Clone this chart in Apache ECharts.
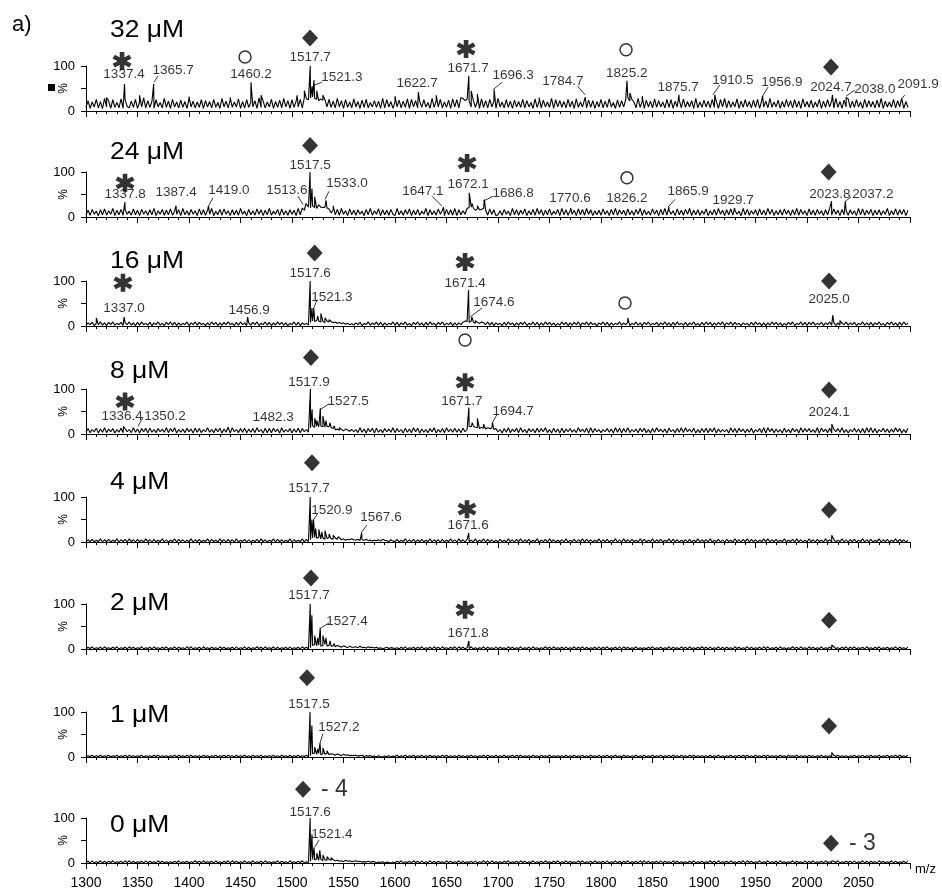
<!DOCTYPE html>
<html>
<head>
<meta charset="utf-8">
<script src="https://cdn.jsdelivr.net/npm/echarts@6/dist/echarts.min.js"></script>
<style>
  html, body { margin: 0; background: #fff; }
  #chart { width: 942px; height: 890px; }
</style>
</head>
<body>
<div id="chart"></div>
<script>
// concentrations, one panel each (top to bottom)
var concLabels = ['32 μM', '24 μM', '16 μM', '8 μM', '4 μM', '2 μM', '1 μM', '0 μM'];

// baseline noise: one base-36 char = intensity (%) every 2 m/z from 1300
var noise32 = [
  '8n6k9q7l5s' + '9m6p8j7r6o' + 'a7m8q6k9t7' + 'n8l6p9j7s8' + 'm6q9k7o8l6',
  'r9m7k8p6n9' + 'l7q8j6s9m7' + 'o8k9r6l7p8' + 'j9n6t8m7k9' + 'q6l8o7s9n6',
  'p8m9q7urpt' + 'vsqnrop9q8' + 'm7s9n6p8k7' + 'r9l6o8q7j9' + 'n8m6s7p9l6',
  'k9o7m8r6q9' + 'n7l8p9j6s8' + 'm9q7k8o6r9' + 'p7usnqm9o8' + 'l6r8n7q9m6',
  's9k7p8m6o9' + 'l8q7n9j6r8' + 'm7o9k8s6p9' + 'n8l7q9m6r8' + 'k9p7o8n6l9',
  'q7m8r9j6o8' + 'n9pumqk7s8' + 'l6o9m7r8n9' + 'k7q8p6m9o7' + 'r8l9n6s7k8',
  'o9m7q8l6p9' + 's7n8k9r6m8' + 'p9l7o8q6n9' + 'm7s8k9o6l8' + 'q9n7p8m6r9',
  'l8o7k9q6m8' + 'p9n7s8l6o9' + 'r7m8p9k6q8' + 'n9l7o8s6m9' + 'k8q7n9p6l8'
].join('');
var noise24 = [
  '5f4h6d3g5i' + '4e6j3f5h4g' + '6d4i5f3h6e' + '4g5j3e6h4f' + '5i4d6g3j5e',
  '4h6e3i5g4f' + '6j3d5h4i6e' + '3g5f4j6d3h' + '5e4i6g3f5j' + '4d6h3i5e4g',
  '6f3j5kfqmk' + 'pljrmlmki9' + 'g5h4j6e3i5' + 'f4g6d3h5j4' + 'e6i3g5f4h6',
  '3j5e4g6i3f' + '5h4d6j3g5e' + '4i6f3h5g4j' + '3g5e6jlmkf' + 'ighjf4i6g3',
  '5e4h6d3j5g' + '4f6i3e5h4j' + '6g3f5i4d6h' + '3j5g4e6f3i' + '5h4j6g3e5f',
  '4i6e3h5j4g' + '6f3i5e4h6j' + '3g5d4i6f3h' + '5j4g6e3i5f' + '4h6j3f5g4e',
  '6i3e5h4j6f' + '3g5i4f6d3j' + '5h4e6g3i5f' + '4j6h3e5g4i' + '6f3g5j4h6e',
  '3i5f4h6e3g' + '5j4i6f3h5e' + '4g6e3j5i4f' + '6h3f5g4e6j' + '3e5i4g6h3f'
].join('');
var noise16 = [
  '2738163927' + '1839263817' + '3927182936' + '2817392618' + '3928172639',
  '1739283617' + '2938172839' + '3618293717' + '2839163928' + '1729382716',
  '3928173628' + 'bacb9a8b9a' + '7968574635' + '2738163927' + '3928172639',
  '2817392618' + '3927182936' + '1839263817' + '2738ba8b96' + '8697392817',
  '3618293717' + '2839163928' + '1729382716' + '2938172839' + '1739283617',
  '3928172639' + '2738163927' + '1839263817' + '3927182936' + '2817392618',
  '2938172839' + '1739283617' + '3618293717' + '1729382716' + '2839163928',
  '1839263817' + '3928172639' + '2738163927' + '2817392618' + '3927182936'
].join('');
var noise8 = [
  '4c3a5d2b4e' + '3b5c2a4d3f' + '5a3e4b2c5d' + '2d4a3c5b4e' + '3c5e2a4b3d',
  '5b2d4c3a5e' + '4a3c5d2b4f' + '2e5a3c4d2b' + '4c3e5a2d3c' + '3d5b2e4a5c',
  '2b4d3c5a4e' + 'ifhgigfhge' + 'c9b8a7b96a' + '5a3e4b2c5d' + '2d4a3c5b4e',
  '3c5a2d4b3e' + '5d2b4a3c5e' + '2a4c3e5b4d' + '4b3d5ahgif' + 'ecfdbecdac',
  '5a2c4e3b5d' + '3e4a2c5b3d' + '4c5e3a2d4b' + '2d3b5c4a3e' + '5b4d2e3c5a',
  '3a5c4b2e4d' + '2c4e3a5b3d' + '5d3a2c4e5b' + '4b2d5a3c4e' + '3e5b4d2a3c',
  '4d3c5e2b4a' + '5a2e4c3d5b' + '3b4d2a5c3e' + '2e5c3b4a2d' + '4a3d5b2e4c',
  '5c4a3e2d5b' + '3d2b5c4e3a' + '2a5d4b3c2e' + '4e3c2a5d4b' + '3b4e5c2a3d'
].join('');
var noise4 = [
  '0516041705' + '1604170516' + '0715061407' + '1506041705' + '0417061504',
  '1705160417' + '0614071506' + '1507041605' + '0416071504' + '1706150417',
  '0514170615' + '9a8b7968a7' + '7968574657' + '5463546342' + '4352643152',
  '1604170516' + '0516041705' + '1506041705' + '0715061407' + '0417061504',
  '0614071506' + '1705160417' + '0416071504' + '1507041605' + '1706150417',
  '0516041705' + '0715061407' + '1604170516' + '0417061504' + '1506041705',
  '1507041605' + '0614071506' + '1706150417' + '1705160417' + '0416071504',
  '0715061407' + '1506041705' + '0516041705' + '1604170516' + '0417061504'
].join('');
var noise2 = [
  '0415031405' + '1304150314' + '0514031503' + '1405130415' + '0315041305',
  '1503140513' + '0413051403' + '1405031504' + '0315140513' + '1504031405',
  '0314051403' + '8a7968a786' + '7586475364' + '4536342534' + '2413024132',
  '1304150314' + '0415031405' + '1405130415' + '0514031503' + '0315041305',
  '0413051403' + '1503140513' + '0315140513' + '1405031504' + '1504031405',
  '0415031405' + '0514031503' + '1304150314' + '0315041305' + '1405130415',
  '1405031504' + '0413051403' + '1504031405' + '1503140513' + '0315140513',
  '0514031503' + '1405130415' + '0415031405' + '1304150314' + '0315041305'
].join('');
var noise1 = [
  '0314031403' + '1403140314' + '0413031403' + '1304140313' + '0314041304',
  '1403130413' + '0314031404' + '1304031403' + '0413140313' + '1403041304',
  '0314031403' + '7968576857' + '6475364534' + '3423413231' + '2031021302',
  '1403140314' + '0314031403' + '1304140313' + '0413031403' + '0314041304',
  '0314031404' + '1403130413' + '0413140313' + '1304031403' + '1403041304',
  '0314031403' + '0413031403' + '1403140314' + '0314041304' + '1304140313',
  '1304031403' + '0314031404' + '1403041304' + '1403130413' + '0413140313',
  '0413031403' + '1304140313' + '0314031403' + '1403140314' + '0314041304'
].join('');
var noise0 = [
  '1405031504' + '0415031405' + '1504031405' + '0413051403' + '1304150314',
  '0315140513' + '1405130415' + '0514031503' + '1503140513' + '0315041305',
  '1304150314' + '8796857686' + '7564536453' + '4534232423' + '3021302102',
  '0415031405' + '1405031504' + '0413051403' + '1504031405' + '0315140513',
  '1304150314' + '0514031503' + '1405130415' + '0315041305' + '1503140513',
  '1405031504' + '0415031405' + '1504031405' + '0413051403' + '1304150314',
  '0315140513' + '1405130415' + '0514031503' + '1503140513' + '0315041305',
  '0415031405' + '1304150314' + '1405031504' + '0413051403' + '1504031405'
].join('');

// peaks [m/z, %]
var peaks32 = [[1320, 30], [1337.4, 60], [1352, 35], [1365.7, 60], [1400, 32], [1440, 30], [1460.2, 64], [1470, 35],
  [1505, 35], [1512, 45], [1517.7, 100], [1519.5, 55], [1521.3, 69], [1524, 45], [1530, 35], [1560, 30], [1600, 33],
  [1622.7, 42], [1640, 35], [1671.7, 78], [1674, 45], [1680, 38], [1696.3, 47], [1740, 30], [1784.7, 31],
  [1825.2, 67], [1828, 40], [1840, 33], [1875.7, 36], [1910.5, 36], [1956.9, 33], [2024.7, 36], [2038.0, 30], [2091.9, 28]];
var peaks24 = [[1337.8, 33], [1387.4, 25], [1419.0, 24], [1513.6, 30], [1517.5, 100], [1519.4, 63], [1522, 45],
  [1526, 30], [1533.0, 37], [1540, 25], [1647.1, 22], [1672.1, 54], [1675, 30], [1680, 25], [1686.8, 39],
  [1770.6, 20], [1826.2, 22], [1865.9, 22], [1929.7, 20], [2023.8, 35], [2037.2, 35]];
var peaks16 = [[1310, 18], [1337.0, 20], [1456.9, 20], [1517.6, 100], [1519.4, 40], [1521.3, 38], [1525, 22],
  [1528, 28], [1532, 18], [1536, 14], [1671.4, 80], [1674.6, 20], [1678, 12], [1826, 18], [2025.0, 24], [2032, 12]];
var peaks8 = [[1336.4, 17], [1350.2, 14], [1482.3, 15], [1517.9, 100], [1519.5, 55], [1522, 35], [1524, 30],
  [1527.5, 57], [1530, 40], [1533, 30], [1537, 25], [1541, 18], [1546, 14], [1671.7, 59], [1675, 25], [1680, 35],
  [1686, 22], [1694.7, 25], [2024.1, 22]];
var peaks4 = [[1517.7, 100], [1519.3, 50], [1520.9, 50], [1523, 30], [1526, 28], [1529, 22], [1532, 25], [1536, 18],
  [1540, 15], [1545, 12], [1550, 10], [1556, 8], [1567.6, 20], [1671.6, 20], [2024, 15]];
var peaks2 = [[1517.7, 100], [1519.3, 75], [1522, 30], [1525, 25], [1527.4, 47], [1530, 30], [1533, 25], [1537, 18],
  [1541, 12], [1546, 10], [1552, 7], [1671.8, 18], [2024, 9]];
var peaks1 = [[1517.5, 100], [1519.3, 70], [1522, 22], [1525, 18], [1527.2, 31], [1530, 20], [1534, 14], [1538, 10],
  [1544, 7], [2024, 10]];
var peaks0 = [[1517.6, 100], [1519.4, 64], [1521.4, 35], [1524, 22], [1527, 28], [1530, 18], [1534, 14], [1538, 12],
  [1544, 9], [1550, 6], [2024, 5]];

// peak annotations [text, m/z, %]
var labels32 = [['1337.4', 1336.9, 82], ['1365.7', 1384.5, 91], ['1460.2', 1460.2, 82], ['1517.7', 1517.5, 120],
  ['1521.3', 1548.5, 76], ['1622.7', 1621.4, 62], ['1671.7', 1670.9, 96], ['1696.3', 1714.6, 80],
  ['1784.7', 1763, 67], ['1825.2', 1825, 84], ['1875.7', 1874.8, 53], ['1910.5', 1928, 69], ['1956.9', 1975.7, 64],
  ['2024.7', 2023.3, 53], ['2038.0', 2066, 49], ['2091.9', 2107.8, 60]];
var labels24 = [['1337.8', 1337.9, 50], ['1387.4', 1387.4, 54], ['1419.0', 1438.8, 59], ['1513.6', 1495, 59],
  ['1517.5', 1517.5, 115], ['1533.0', 1553.4, 76], ['1647.1', 1627, 57], ['1672.1', 1670.9, 72],
  ['1686.8', 1714.6, 52], ['1770.6', 1769.9, 41], ['1826.2', 1825.2, 41], ['1865.9', 1884.5, 57],
  ['1929.7', 1928.2, 37], ['2023.8', 2022.3, 50], ['2037.2', 2064, 50]];
var labels16 = [['1337.0', 1336.9, 40], ['1456.9', 1458.3, 36], ['1517.6', 1517.5, 118], ['1521.3', 1538.8, 64],
  ['1671.4', 1668, 96], ['1674.6', 1696, 53], ['2025.0', 2021.4, 60]];
var labels8 = [['1336.4', 1335, 39], ['1350.2', 1376.7, 39], ['1482.3', 1481.6, 37], ['1517.9', 1516.5, 115],
  ['1527.5', 1554.4, 72], ['1671.7', 1665, 72], ['1694.7', 1714.6, 50], ['2024.1', 2021.4, 48]];
var labels4 = [['1517.7', 1516.5, 120], ['1520.9', 1538.8, 71], ['1567.6', 1586.4, 56], ['1671.6', 1670.9, 38]];
var labels2 = [['1517.7', 1516.5, 120], ['1527.4', 1553.4, 62], ['1671.8', 1670.9, 36]];
var labels1 = [['1517.5', 1516.5, 118], ['1527.2', 1545.6, 67]];
var labels0 = [['1517.6', 1517.5, 113], ['1521.4', 1538.8, 64]];

// leader lines [m/z1, %1, m/z2, %2]
var leaders32 = [[1366, 64, 1370, 78], [1520.4, 56, 1529, 64], [1695, 47, 1704, 64], [1777, 56, 1784.5, 36],
  [1908.7, 36, 1915.5, 58], [1956.3, 31, 1962.1, 53], [2037.9, 33, 2046.6, 47], [2092, 27, 2095, 36]];
var leaders24 = [[1418.4, 22, 1423.3, 43], [1510.7, 28, 1505.8, 46], [1532, 39, 1535.9, 57], [1645.6, 24, 1636, 46],
  [1685.4, 35, 1695, 46], [1865, 22, 1871.8, 39], [2037.2, 35, 2043, 45]];
var leaders16 = [[1520.4, 36, 1524.3, 58], [1672.8, 20, 1684.5, 40]];
var leaders8 = [[1350.5, 17, 1355.3, 37], [1527.2, 54, 1536, 67], [1694.2, 24, 1699, 43]];
var leaders4 = [[1521, 50, 1525, 63], [1567, 20, 1572.8, 38]];
var leaders2 = [[1528.2, 47, 1536, 58]];
var leaders1 = [[1527.2, 31, 1530, 52]];
var leaders0 = [[1522.3, 36, 1526.2, 51]];

// markers [m/z, %, kind, suffix]
var marks32 = [[1335, 111, 'star'], [1454.4, 120, 'circle'], [1517.5, 162, 'diamond'], [1669, 138, 'star'],
  [1824.3, 136, 'circle'], [2023.3, 98, 'diamond']];
var marks24 = [[1337.9, 76, 'star'], [1517.5, 159, 'diamond'], [1670, 120, 'star'], [1825.2, 87, 'circle'],
  [2021, 100, 'diamond']];
var marks16 = [[1335.9, 96, 'star'], [1522, 162, 'diamond'], [1668, 142, 'star'], [1823.3, 51, 'circle'],
  [1668, -31, 'circle'], [2021.4, 100, 'diamond']];
var marks8 = [[1337.9, 72, 'star'], [1518.4, 170, 'diamond'], [1668, 115, 'star'], [2021.4, 98, 'diamond']];
var marks4 = [[1519.4, 176, 'diamond'], [1669.9, 73, 'star'], [2021.4, 71, 'diamond']];
var marks2 = [[1518.4, 158, 'diamond'], [1668, 87, 'star'], [2021.4, 64, 'diamond']];
var marks1 = [[1514.6, 176, 'diamond'], [2021.4, 69, 'diamond']];
var marks0 = [[1510.7, 164, 'diamond', '- 4'], [2023.3, 44, 'diamond', '- 3']];

var xTicks = { min: 1300, max: 2100, step: 50 };

var panels = [
  [noise32, peaks32, labels32, leaders32, marks32],
  [noise24, peaks24, labels24, leaders24, marks24],
  [noise16, peaks16, labels16, leaders16, marks16],
  [noise8, peaks8, labels8, leaders8, marks8],
  [noise4, peaks4, labels4, leaders4, marks4],
  [noise2, peaks2, labels2, leaders2, marks2],
  [noise1, peaks1, labels1, leaders1, marks1],
  [noise0, peaks0, labels0, leaders0, marks0]
];

// layout
var TOPS = [66, 172, 281, 389, 497, 604, 712, 818];
var TITLE_Y = [31, 153, 262, 372, 483, 604, 716, 826];
var PH = 45;
var FONT = '"Liberation Sans", Arial, sans-serif';
var STAR = 'path://M-2.4,-10L2.4,-10L2.4,10L-2.4,10ZM7.46,-7.08L9.86,-2.92L-7.46,7.08L-9.86,2.92ZM-9.86,-2.92L-7.46,-7.08L9.86,2.92L7.46,7.08Z';

function spectrum(noise, peaks) {
  var pts = [];
  for (var i = 0; i < noise.length; i++) {
    var x = xTicks.min + 2 * i;
    if (x > xTicks.max) break;
    pts.push([x, parseInt(noise[i], 36)]);
  }
  peaks.forEach(function (p) { pts.push([p[0], p[1]]); });
  pts.sort(function (a, b) { return a[0] - b[0]; });
  return pts;
}

function markItem(m) {
  var item = { value: [m[0], m[1]] };
  if (m[2] === 'star') {
    item.symbol = STAR; item.symbolSize = [19, 18];
    item.itemStyle = { color: '#000' };
  } else if (m[2] === 'diamond') {
    item.symbol = 'diamond'; item.symbolSize = [16, 17];
    item.itemStyle = { color: '#000' };
  } else {
    item.symbol = 'circle'; item.symbolSize = 12;
    item.itemStyle = { color: '#fff', borderColor: '#000', borderWidth: 1.5 };
  }
  if (m[3]) {
    item.label = { show: true, position: 'right', distance: 10, formatter: m[3],
      fontFamily: FONT, fontSize: 23, color: '#000' };
  }
  return item;
}

var grid = [], xAxis = [], yAxis = [], series = [], graphic = [];
panels.forEach(function (p, i) {
  var last = i === panels.length - 1;
  grid.push({ left: 86, right: 32, top: TOPS[i], height: PH });
  xAxis.push({
    gridIndex: i, type: 'value', min: xTicks.min, max: xTicks.max, interval: xTicks.step,
    axisLine: { lineStyle: { color: '#000', width: 1 } },
    axisTick: { length: 6, lineStyle: { color: '#000' } },
    minorTick: { show: true, splitNumber: 5, length: 3, lineStyle: { color: '#000' } },
    splitLine: { show: false }, minorSplitLine: { show: false },
    axisLabel: {
      show: last, margin: 13, color: '#000', fontFamily: FONT, fontSize: 14,
      formatter: function (v) { return v >= xTicks.max ? '' : v; }
    },
    name: last ? 'm/z' : '', nameLocation: 'end', nameGap: 5,
    nameTextStyle: { color: '#000', fontFamily: FONT, fontSize: 13, verticalAlign: 'top' }
  });
  yAxis.push({
    gridIndex: i, type: 'value', min: 0, max: 100, interval: 50,
    axisLine: { show: true, lineStyle: { color: '#000' } },
    axisTick: { show: true, length: 5, lineStyle: { color: '#000' } },
    splitLine: { show: false },
    axisLabel: { margin: 11, color: '#000', fontFamily: FONT, fontSize: 13,
      formatter: function (v) { return v === 50 ? '' : v; } },
    name: '%', nameLocation: 'middle', nameGap: 16, nameRotate: 90, nameMoveOverlap: false,
    nameTextStyle: { color: '#000', fontFamily: FONT, fontSize: 12 }
  });
  series.push({
    type: 'line', xAxisIndex: i, yAxisIndex: i, data: spectrum(p[0], p[1]),
    showSymbol: false, symbol: 'none', silent: true,
    lineStyle: { color: '#000', width: 1.1 }
  });
  series.push({
    type: 'scatter', xAxisIndex: i, yAxisIndex: i, clip: false, silent: true,
    symbolSize: 1, itemStyle: { color: 'rgba(0,0,0,0)' },
    data: p[2].map(function (l) { return { name: l[0], value: [l[1], l[2]] }; }),
    label: { show: true, position: 'inside', formatter: '{b}', color: '#000', fontFamily: FONT, fontSize: 13.5 }
  });
  series.push({
    type: 'lines', coordinateSystem: 'cartesian2d', xAxisIndex: i, yAxisIndex: i, clip: false, silent: true,
    lineStyle: { color: '#000', width: 0.8, opacity: 1 },
    data: p[3].map(function (d) { return { coords: [[d[0], d[1]], [d[2], d[3]]] }; })
  });
  series.push({
    type: 'scatter', xAxisIndex: i, yAxisIndex: i, clip: false, silent: true,
    data: p[4].map(markItem)
  });
  graphic.push({
    type: 'text', x: 110, y: TITLE_Y[i], scaleX: 1.15,
    style: { text: concLabels[i], font: '23px ' + FONT, fill: '#000', verticalAlign: 'middle' }
  });
});

graphic.push({ type: 'text', x: 12, y: 25, style: { text: 'a)', font: '22px ' + FONT, fill: '#000', verticalAlign: 'middle' } });
graphic.push({ type: 'rect', shape: { x: 48, y: 84, width: 7, height: 7 }, style: { fill: '#000' } });

var chart = echarts.init(document.getElementById('chart'), null, { renderer: 'canvas' });
chart.setOption({
  animation: false,
  backgroundColor: '#fff',
  grid: grid, xAxis: xAxis, yAxis: yAxis, series: series, graphic: graphic
});
</script>
</body>
</html>
